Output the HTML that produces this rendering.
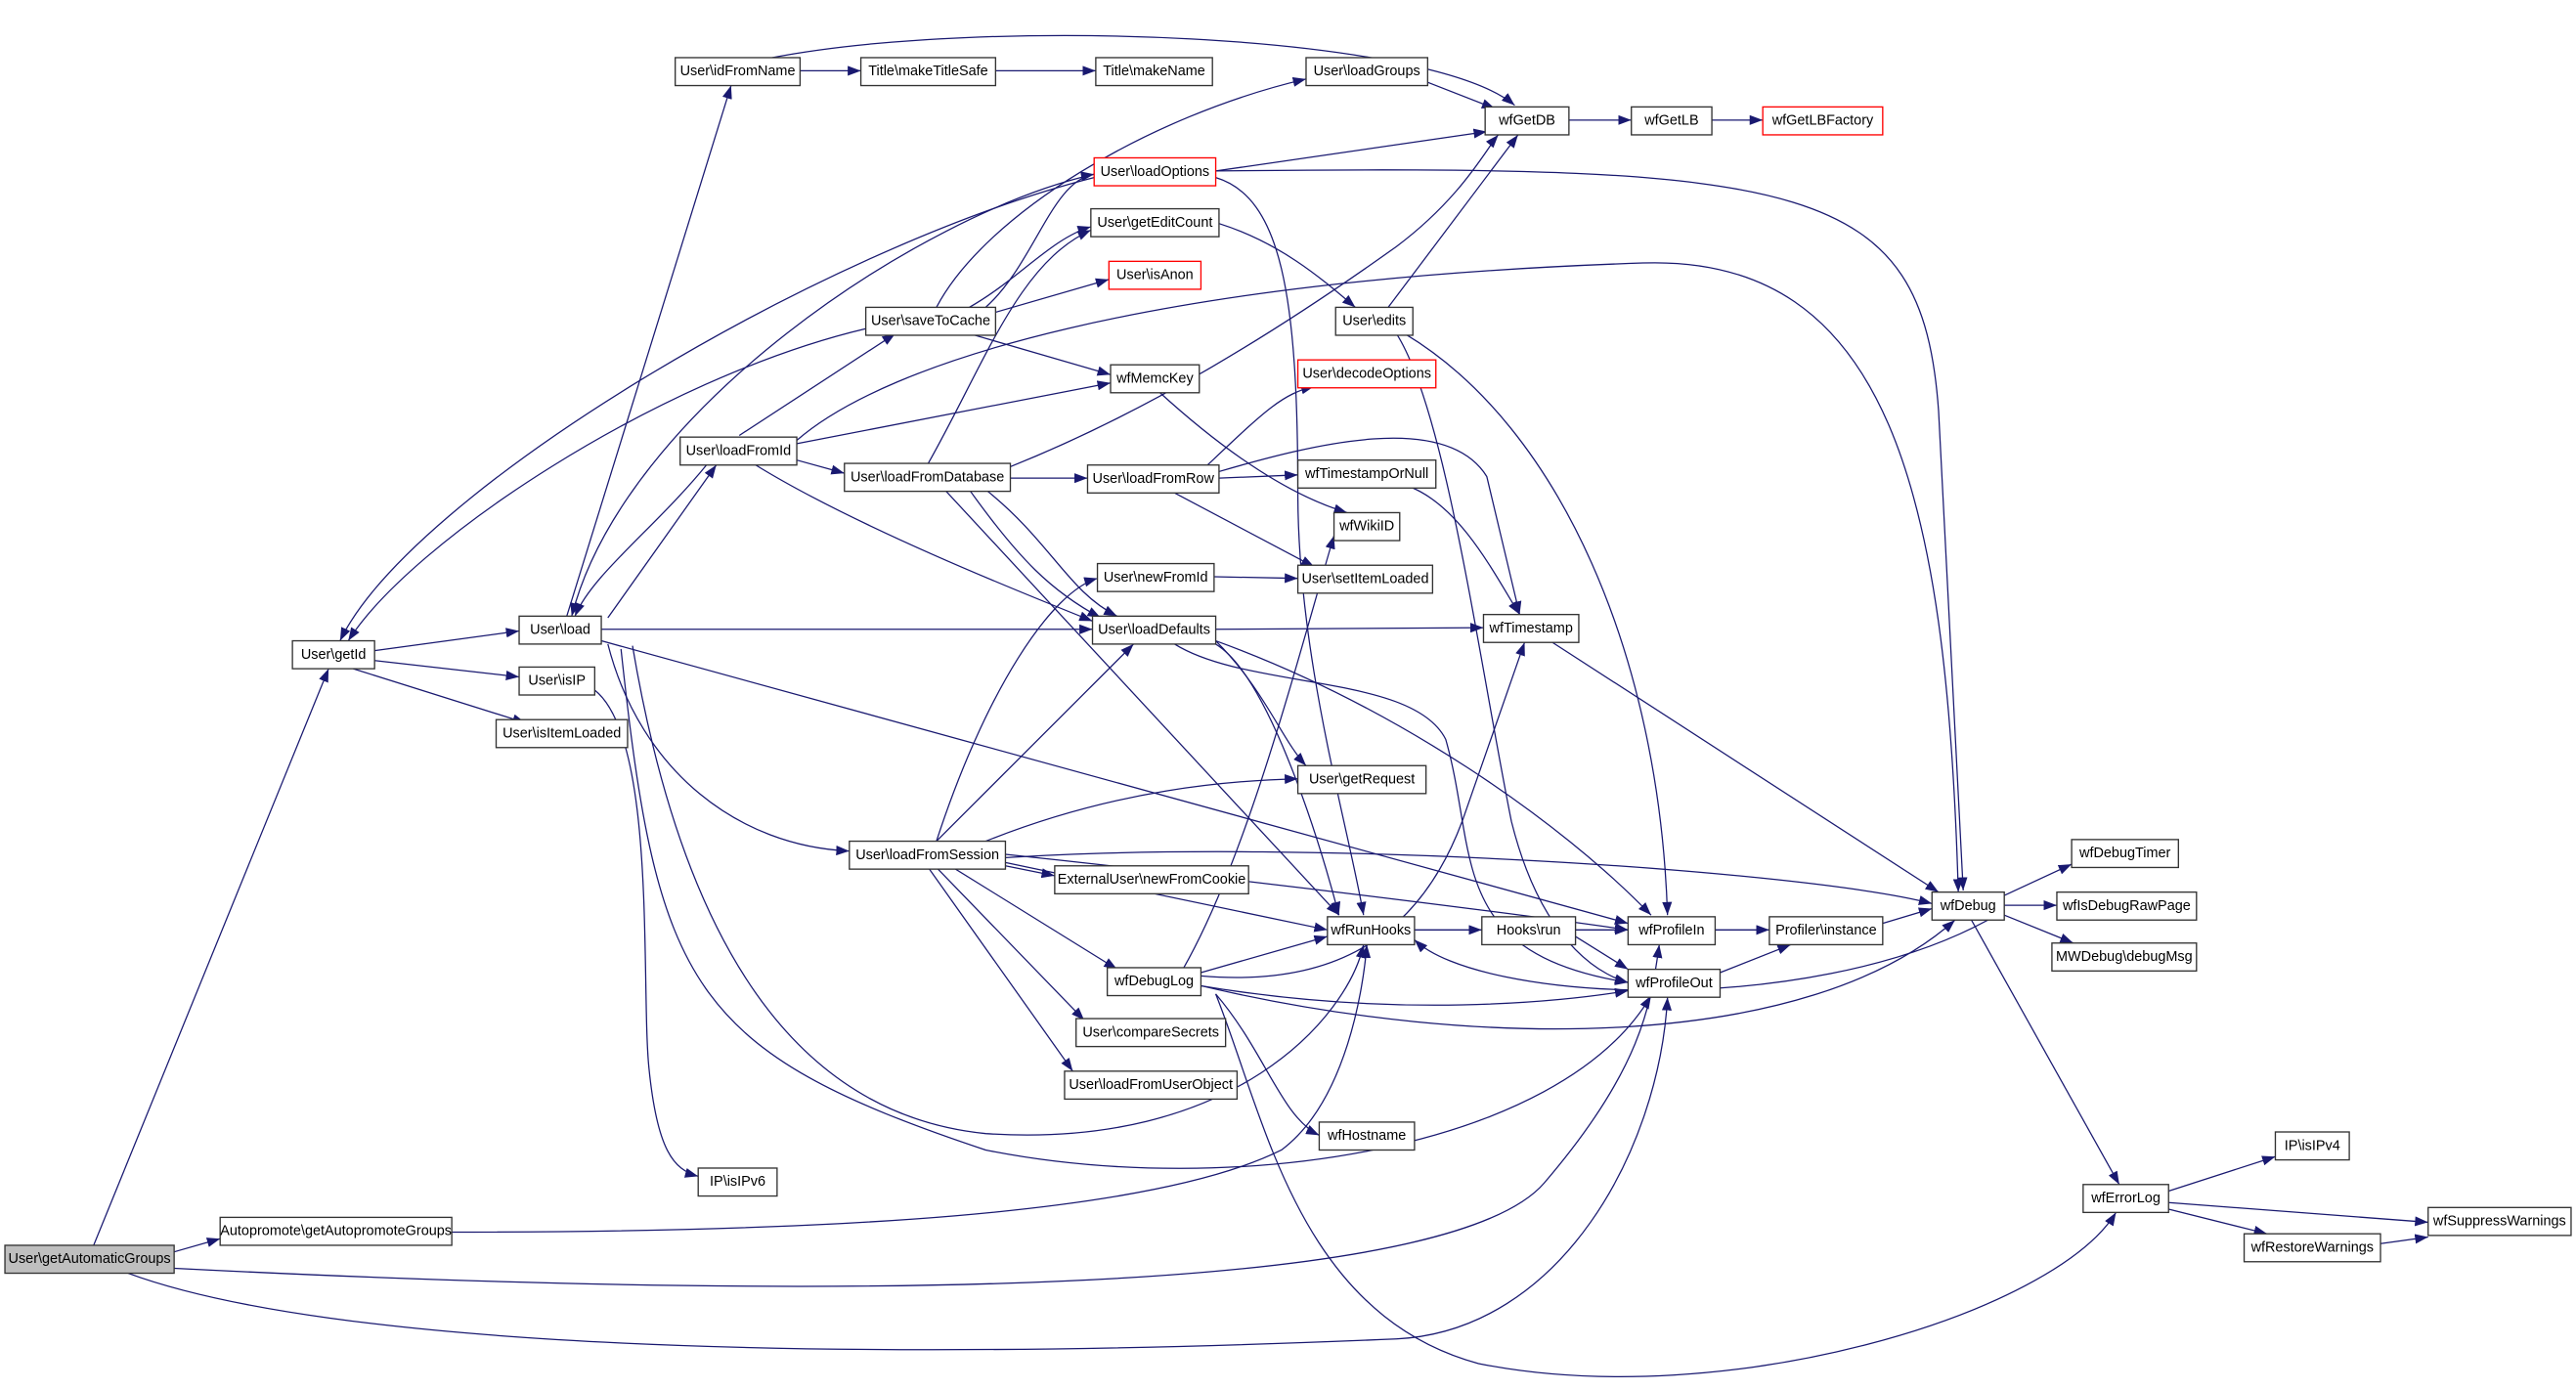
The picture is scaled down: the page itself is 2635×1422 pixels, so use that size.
<!DOCTYPE html>
<html><head><meta charset="utf-8"><style>
html,body{margin:0;padding:0;background:#fff}
svg{display:block}
text{font-family:"Liberation Sans",Arial,sans-serif;font-size:8.6px;fill:#000;text-anchor:middle;dominant-baseline:central}
.e{fill:none;stroke:#191970;stroke-width:0.75}
.n{fill:#fff;stroke:#333;stroke-width:0.8}
.r{fill:#fff;stroke:#ff0000;stroke-width:0.8}
</style></head><body>
<svg width="2635" height="1422" viewBox="0 0 1568 846" xmlns="http://www.w3.org/2000/svg">
<defs><marker id="a" markerWidth="8" markerHeight="6" refX="8" refY="3" orient="auto" markerUnits="userSpaceOnUse"><path d="M0,0 L8,3 L0,6 z" fill="#191970"/></marker></defs>
<g class="e" marker-end="url(#a)">
<path d="M106,762 L134,754"/>
<path d="M57,758 L200,407"/>
<path d="M106,772 C500,792 880,790 940,720 S1005,610 1010,575"/>
<path d="M78,775 C200,820 500,830 850,815 C950,810 1010,700 1015,607"/>
<path d="M275,750 C500,750 700,740 780,700 C820,670 830,600 832,575"/>
<path d="M228,396 L316,384"/>
<path d="M228,402 L316,412"/>
<path d="M215,407 L320,440"/>
<path d="M666,108 C500,150 250,300 207,390"/>
<path d="M527,200 C400,230 250,330 212,390"/>
<path d="M345,375 L445,52"/>
<path d="M666,106 C560,130 380,250 348,375"/>
<path d="M430,283 C400,320 360,350 350,375"/>
<path d="M370,376 L436,283"/>
<path d="M366,383 L665,383"/>
<path d="M370,392 C390,470 450,515 517,518"/>
<path d="M366,390 L991,562"/>
<path d="M385,393 C420,600 500,680 600,690 C750,700 820,620 830,575"/>
<path d="M378,395 C400,600 420,640 600,700 C750,730 950,700 1005,606"/>
<path d="M362,420 C400,450 390,600 395,650 C400,700 410,712 425,716"/>
<path d="M487,43 L524,43"/>
<path d="M606,43 L667,43"/>
<path d="M470,35 C600,10 870,20 922,64"/>
<path d="M869,50 L910,66"/>
<path d="M955,73 L993,73"/>
<path d="M1042,73 L1073,73"/>
<path d="M740,104 L905,80"/>
<path d="M740,104 C1100,100 1170,110 1180,250 L1195,542"/>
<path d="M740,108 C780,120 790,180 790,300 C790,400 820,500 830,557"/>
<path d="M742,136 C780,148 805,170 825,187"/>
<path d="M845,187 L924,82"/>
<path d="M855,203 C950,260 1010,400 1015,557"/>
<path d="M850,203 C880,250 900,400 920,500 C940,580 980,595 991,598"/>
<path d="M570,187 C600,130 700,70 795,48"/>
<path d="M590,187 C620,170 640,145 664,138"/>
<path d="M600,187 C630,160 640,110 666,106"/>
<path d="M606,190 L675,170"/>
<path d="M590,203 L676,228"/>
<path d="M450,265 L545,203"/>
<path d="M485,270 L676,233"/>
<path d="M485,268 C540,220 700,170 1000,160 C1150,155 1185,300 1192,543"/>
<path d="M485,280 L514,288"/>
<path d="M460,283 C520,320 620,360 665,378"/>
<path d="M565,282 C600,220 620,160 664,140"/>
<path d="M615,284 C700,250 780,200 850,150 C890,120 905,90 912,82"/>
<path d="M615,291 L662,291"/>
<path d="M590,298 C620,340 640,360 670,376"/>
<path d="M600,298 C640,330 650,360 680,375"/>
<path d="M575,298 L815,557"/>
<path d="M735,283 C770,250 780,240 800,235"/>
<path d="M742,291 L790,289"/>
<path d="M742,287 C800,270 880,250 905,290 L925,374"/>
<path d="M715,300 L800,345"/>
<path d="M705,238 C740,270 780,300 820,312"/>
<path d="M860,297 C890,310 910,350 925,374"/>
<path d="M739,351 L790,352"/>
<path d="M740,383 L903,382"/>
<path d="M740,390 C770,420 780,450 795,466"/>
<path d="M740,392 C770,410 800,500 815,557"/>
<path d="M740,390 C850,430 950,500 1005,557"/>
<path d="M715,392 C760,420 860,410 880,450 C900,520 880,580 991,598"/>
<path d="M945,391 L1180,543"/>
<path d="M570,512 C600,420 640,360 668,352"/>
<path d="M570,512 L690,392"/>
<path d="M600,512 C680,480 750,475 790,474"/>
<path d="M612,527 L642,533"/>
<path d="M612,525 L808,566"/>
<path d="M612,522 C800,510 1100,530 1176,550"/>
<path d="M612,520 C800,540 950,560 991,566"/>
<path d="M580,528 L680,590"/>
<path d="M570,528 L660,621"/>
<path d="M565,528 L653,652"/>
<path d="M731,592 L808,570"/>
<path d="M720,590 C760,520 790,400 812,326"/>
<path d="M731,594 C800,600 860,580 890,500 L928,391"/>
<path d="M740,605 C770,640 780,680 803,691"/>
<path d="M731,600 C900,640 1100,640 1190,560"/>
<path d="M740,605 C770,680 790,800 900,830 C1050,860 1250,800 1288,738"/>
<path d="M731,600 C850,620 950,610 991,603"/>
<path d="M861,566 L902,566"/>
<path d="M959,566 L991,566"/>
<path d="M959,570 L991,590"/>
<path d="M1044,566 L1077,566"/>
<path d="M1047,592 L1090,575"/>
<path d="M1146,562 L1176,553"/>
<path d="M1210,560 C1100,620 900,610 861,572"/>
<path d="M1220,545 L1261,526"/>
<path d="M1220,551 L1252,551"/>
<path d="M1220,557 L1262,574"/>
<path d="M1200,560 L1290,721"/>
<path d="M1320,725 L1385,704"/>
<path d="M1320,732 L1478,744"/>
<path d="M1320,736 L1380,751"/>
<path d="M1449,757 L1478,753"/>
</g>
<g>
<rect x="3" y="758" width="103" height="17" fill="#bfbfbf" stroke="#333" stroke-width="0.8"/><text x="54.5" y="766.5">User\getAutomaticGroups</text>
<rect class="n" x="134" y="741" width="141" height="17"/><text x="204.5" y="749.5">Autopromote\getAutopromoteGroups</text>
<rect class="n" x="178" y="390" width="50" height="17"/><text x="203" y="398.5">User\getId</text>
<rect class="n" x="316" y="375" width="50" height="17"/><text x="341" y="383.5">User\load</text>
<rect class="n" x="316" y="406" width="46" height="17"/><text x="339" y="414.5">User\isIP</text>
<rect class="n" x="302" y="438" width="80" height="17"/><text x="342" y="446.5">User\isItemLoaded</text>
<rect class="n" x="425" y="711" width="48" height="17"/><text x="449" y="719.5">IP\isIPv6</text>
<rect class="n" x="411" y="35" width="76" height="17"/><text x="449" y="43.5">User\idFromName</text>
<rect class="n" x="524" y="35" width="82" height="17"/><text x="565" y="43.5">Title\makeTitleSafe</text>
<rect class="n" x="667" y="35" width="71" height="17"/><text x="702.5" y="43.5">Title\makeName</text>
<rect class="n" x="795" y="35" width="74" height="17"/><text x="832" y="43.5">User\loadGroups</text>
<rect class="n" x="904" y="65" width="51" height="17"/><text x="929.5" y="73.5">wfGetDB</text>
<rect class="n" x="993" y="65" width="49" height="17"/><text x="1017.5" y="73.5">wfGetLB</text>
<rect class="r" x="1073" y="65" width="73" height="17"/><text x="1109.5" y="73.5">wfGetLBFactory</text>
<rect class="r" x="666" y="96" width="74" height="17"/><text x="703" y="104.5">User\loadOptions</text>
<rect class="n" x="664" y="127" width="78" height="17"/><text x="703" y="135.5">User\getEditCount</text>
<rect class="r" x="675" y="159" width="56" height="17"/><text x="703" y="167.5">User\isAnon</text>
<rect class="n" x="527" y="187" width="79" height="17"/><text x="566.5" y="195.5">User\saveToCache</text>
<rect class="n" x="813" y="187" width="47" height="17"/><text x="836.5" y="195.5">User\edits</text>
<rect class="n" x="676" y="222" width="54" height="17"/><text x="703" y="230.5">wfMemcKey</text>
<rect class="r" x="790" y="219" width="84" height="17"/><text x="832" y="227.5">User\decodeOptions</text>
<rect class="n" x="414" y="266" width="71" height="17"/><text x="449.5" y="274.5">User\loadFromId</text>
<rect class="n" x="514" y="282" width="101" height="17"/><text x="564.5" y="290.5">User\loadFromDatabase</text>
<rect class="n" x="662" y="283" width="80" height="17"/><text x="702" y="291.5">User\loadFromRow</text>
<rect class="n" x="790" y="280" width="84" height="17"/><text x="832" y="288.5">wfTimestampOrNull</text>
<rect class="n" x="812" y="312" width="40" height="17"/><text x="832" y="320.5">wfWikiID</text>
<rect class="n" x="668" y="343" width="71" height="17"/><text x="703.5" y="351.5">User\newFromId</text>
<rect class="n" x="790" y="344" width="82" height="17"/><text x="831" y="352.5">User\setItemLoaded</text>
<rect class="n" x="665" y="375" width="75" height="17"/><text x="702.5" y="383.5">User\loadDefaults</text>
<rect class="n" x="903" y="374" width="58" height="17"/><text x="932" y="382.5">wfTimestamp</text>
<rect class="n" x="790" y="466" width="78" height="17"/><text x="829" y="474.5">User\getRequest</text>
<rect class="n" x="517" y="512" width="95" height="17"/><text x="564.5" y="520.5">User\loadFromSession</text>
<rect class="n" x="642" y="527" width="118" height="17"/><text x="701" y="535.5">ExternalUser\newFromCookie</text>
<rect class="n" x="1261" y="511" width="65" height="17"/><text x="1293.5" y="519.5">wfDebugTimer</text>
<rect class="n" x="1176" y="543" width="44" height="17"/><text x="1198" y="551.5">wfDebug</text>
<rect class="n" x="1252" y="543" width="85" height="17"/><text x="1294.5" y="551.5">wfIsDebugRawPage</text>
<rect class="n" x="1249" y="574" width="88" height="17"/><text x="1293" y="582.5">MWDebug\debugMsg</text>
<rect class="n" x="808" y="558" width="53" height="17"/><text x="834.5" y="566.5">wfRunHooks</text>
<rect class="n" x="902" y="558" width="57" height="17"/><text x="930.5" y="566.5">Hooks\run</text>
<rect class="n" x="991" y="558" width="53" height="17"/><text x="1017.5" y="566.5">wfProfileIn</text>
<rect class="n" x="1077" y="558" width="69" height="17"/><text x="1111.5" y="566.5">Profiler\instance</text>
<rect class="n" x="991" y="590" width="56" height="17"/><text x="1019" y="598.5">wfProfileOut</text>
<rect class="n" x="674" y="589" width="57" height="17"/><text x="702.5" y="597.5">wfDebugLog</text>
<rect class="n" x="655" y="620" width="91" height="17"/><text x="700.5" y="628.5">User\compareSecrets</text>
<rect class="n" x="648" y="652" width="105" height="17"/><text x="700.5" y="660.5">User\loadFromUserObject</text>
<rect class="n" x="803" y="683" width="58" height="17"/><text x="832" y="691.5">wfHostname</text>
<rect class="n" x="1385" y="689" width="45" height="17"/><text x="1407.5" y="697.5">IP\isIPv4</text>
<rect class="n" x="1268" y="721" width="52" height="17"/><text x="1294" y="729.5">wfErrorLog</text>
<rect class="n" x="1366" y="751" width="83" height="17"/><text x="1407.5" y="759.5">wfRestoreWarnings</text>
<rect class="n" x="1478" y="735" width="87" height="17"/><text x="1521.5" y="743.5">wfSuppressWarnings</text>
</g>
</svg>
</body></html>
